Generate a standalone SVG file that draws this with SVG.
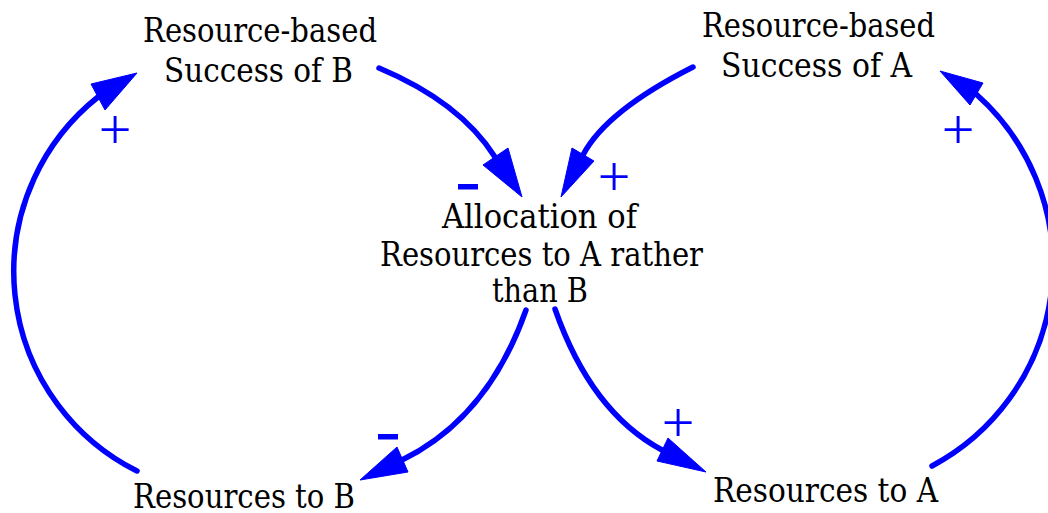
<svg xmlns="http://www.w3.org/2000/svg" width="1048" height="513" viewBox="0 0 1048 513">
<style>
.lbl{font-family:"DejaVu Serif","Liberation Serif",serif;font-size:33px;fill:#000000;text-anchor:middle}
.lnk{fill:none;stroke:#0000ff;stroke-width:5.5;stroke-linecap:round}
.head{fill:#0000ff;stroke:#0000ff;stroke-width:1;stroke-linejoin:miter}
.plus{font-family:"Liberation Serif",serif;font-size:58px;fill:#0000ff;text-anchor:middle}
.minus{fill:#0000ff}
</style>
<rect width="1048" height="513" fill="#ffffff"/>
<g id="connectors">
  <path class="lnk" d="M137,471 A223,223 0 0 1 98,97"/>
  <polygon class="head" points="137,73 91,84 105,110"/>
  <path class="lnk" d="M932,466 A228,228 0 0 0 976,94"/>
  <polygon class="head" points="940,71 970,105 983,83"/>
  <path class="lnk" d="M379,68 Q460,102 495,157"/>
  <polygon class="head" points="522,197 483,165 508,148"/>
  <path class="lnk" d="M693,67 Q606,111 583,155"/>
  <polygon class="head" points="561,197 572,148 594,161"/>
  <path class="lnk" d="M526,310 Q488,418 402,460"/>
  <polygon class="head" points="360,480 397,447 408,472"/>
  <path class="lnk" d="M555,309 Q591,412 662,450"/>
  <polygon class="head" points="706,472 657,461 668,438"/>
</g>
<g id="polarities">
  <text class="plus" x="115" y="149">+</text>
  <text class="plus" x="958" y="149">+</text>
  <text class="plus" x="614" y="196">+</text>
  <text class="plus" x="678" y="442">+</text>
  <rect class="minus" x="458" y="184" width="20" height="5.5"/>
  <rect class="minus" x="378" y="434" width="20" height="5.5"/>
</g>
<g id="node-success-b">
  <text class="lbl" x="260" y="42" textLength="234" lengthAdjust="spacingAndGlyphs">Resource-based</text>
  <text class="lbl" x="258.5" y="82" textLength="189" lengthAdjust="spacingAndGlyphs">Success of B</text>
</g>
<g id="node-success-a">
  <text class="lbl" x="818.5" y="37" textLength="233" lengthAdjust="spacingAndGlyphs">Resource-based</text>
  <text class="lbl" x="816.5" y="77" textLength="191" lengthAdjust="spacingAndGlyphs">Success of A</text>
</g>
<g id="node-allocation">
  <text class="lbl" x="539.5" y="228" textLength="195" lengthAdjust="spacingAndGlyphs">Allocation of</text>
  <text class="lbl" x="541.5" y="266" textLength="323" lengthAdjust="spacingAndGlyphs">Resources to A rather</text>
  <text class="lbl" x="540" y="302" textLength="96" lengthAdjust="spacingAndGlyphs">than B</text>
</g>
<g id="node-resources-b">
  <text class="lbl" x="244" y="508" textLength="222" lengthAdjust="spacingAndGlyphs">Resources to B</text>
</g>
<g id="node-resources-a">
  <text class="lbl" x="825.5" y="502" textLength="225" lengthAdjust="spacingAndGlyphs">Resources to A</text>
</g>
</svg>
